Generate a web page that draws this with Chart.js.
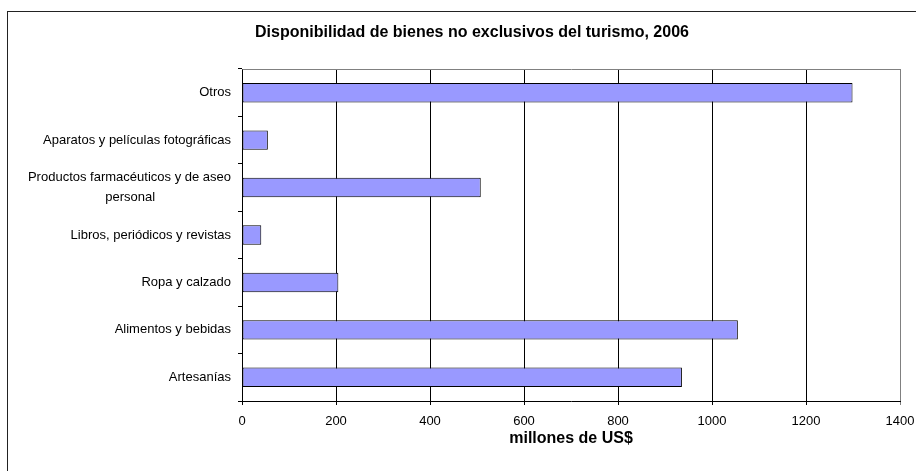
<!DOCTYPE html>
<html>
<head>
<meta charset="utf-8">
<script src="https://cdn.jsdelivr.net/npm/chart.js@4.4.1/dist/chart.umd.min.js"></script>
<style>
  html, body { margin: 0; padding: 0; background: #fff; }
  #wrap { width: 916px; height: 471px; }
</style>
</head>
<body>
<div id="wrap"><canvas id="grafico"></canvas></div>
<script>
// datos (orden de Excel: de abajo hacia arriba)
var titulo = 'Disponibilidad de bienes no exclusivos del turismo, 2006';
var categorias = [
  'Artesanías',
  'Alimentos y bebidas',
  'Ropa y calzado',
  'Libros, periódicos y revistas',
  ['Productos farmacéuticos y de aseo', 'personal'],
  'Aparatos y películas fotográficas',
  'Otros'
];
var valores = [936, 1055, 205, 41, 508, 55, 1299];
var ejeMin = 0;
var ejeMax = 1400;
var ejePaso = 200;

var fuente = '"Liberation Sans", Arial, sans-serif';

// centra las lineas de una etiqueta de varias lineas (el eje alinea a la derecha)
var medida = document.createElement('canvas').getContext('2d');
medida.font = '13px ' + fuente;
function centrarLineas(lineas) {
  var anchos = lineas.map(function (l) { return medida.measureText(l).width; });
  var maximo = Math.max.apply(null, anchos);
  var espacio = medida.measureText(' ').width;
  return lineas.map(function (l, i) {
    var n = Math.round((maximo - anchos[i]) / 2 / espacio);
    return l + ' '.repeat(n);
  });
}

// marco exterior, borde superior gris y titulo
var marco = {
  id: 'marco',
  beforeDraw: function (chart) {
    var c = chart.ctx;
    c.save();
    c.fillStyle = '#fff';
    c.fillRect(0, 0, chart.width, chart.height);
    c.strokeStyle = '#222';
    c.lineWidth = 1;
    c.strokeRect(7.5, 11.5, 960, 520);
    c.fillStyle = '#000';
    c.font = 'bold 16px ' + fuente;
    c.textAlign = 'center';
    c.textBaseline = 'middle';
    c.fillText(titulo, 472, 33);
    c.restore();
  },
  beforeDatasetsDraw: function (chart) {
    var a = chart.chartArea;
    var c = chart.ctx;
    c.save();
    c.strokeStyle = '#808080';
    c.lineWidth = 1;
    c.beginPath();
    c.moveTo(Math.round(a.left) + 0.5, Math.round(a.top) + 0.5);
    c.lineTo(Math.round(a.right) + 0.5, Math.round(a.top) + 0.5);
    c.stroke();
    c.restore();
  }
};

var ctx = document.getElementById('grafico').getContext('2d');
var grafico = new Chart(ctx, {
  type: 'bar',
  data: {
    labels: categorias,
    datasets: [{
      label: 'millones de US$',
      data: valores,
      backgroundColor: '#9999FF',
      borderColor: '#000',
      borderWidth: 1,
      borderSkipped: false,
      barPercentage: 0.41,
      categoryPercentage: 1
    }]
  },
  plugins: [marco],
  options: {
    indexAxis: 'y',
    responsive: true,
    maintainAspectRatio: false,
    animation: false,
    layout: { padding: { left: 0, right: 16, top: 69, bottom: 0 } },
    plugins: {
      legend: { display: false },
      tooltip: { enabled: false },
      title: { display: false }
    },
    scales: {
      x: {
        min: ejeMin,
        max: ejeMax,
        afterFit: function (scale) {
          scale.height = 70;
          scale.paddingLeft = 0;
          scale.paddingRight = 16;
        },
        ticks: {
          stepSize: ejePaso,
          color: '#000',
          padding: 9,
          maxRotation: 0,
          format: { useGrouping: false },
          font: { family: fuente, size: 13 }
        },
        grid: {
          color: function (c) { return c.tick && c.tick.value === ejeMax ? '#808080' : '#000'; },
          lineWidth: 1,
          tickLength: 4
        },
        border: { display: true, color: '#000', width: 1 },
        title: {
          display: true,
          text: 'millones de US$',
          color: '#000',
          font: { family: fuente, size: 16, weight: 'bold' },
          padding: { top: 4, bottom: 23 }
        }
      },
      y: {
        reverse: true,
        afterFit: function (scale) { scale.width = 242; },
        ticks: {
          color: '#000',
          padding: 7,
          font: { family: fuente, size: 13, lineHeight: 1.5 },
          callback: function (v) {
            var l = this.getLabelForValue(v);
            return Array.isArray(l) ? centrarLineas(l) : l;
          }
        },
        grid: {
          offset: true,
          drawOnChartArea: false,
          drawTicks: true,
          tickLength: 4,
          color: '#000'
        },
        border: { display: true, color: '#000', width: 1 }
      }
    }
  }
});
</script>
</body>
</html>
